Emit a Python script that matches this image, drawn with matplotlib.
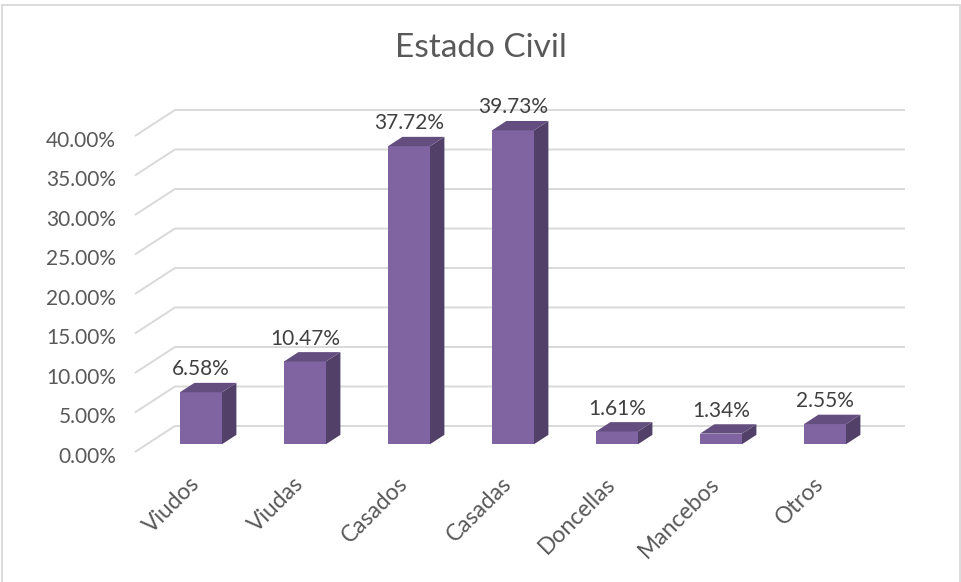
import matplotlib
matplotlib.use("Agg")
import matplotlib.pyplot as plt
from matplotlib.patches import Polygon, Rectangle

categories = ["Viudos", "Viudas", "Casados", "Casadas", "Doncellas", "Mancebos", "Otros"]
values = [6.58, 10.47, 37.72, 39.73, 1.61, 1.34, 2.55]
yticks = [0, 5, 10, 15, 20, 25, 30, 35, 40]
title = "Estado Civil"

FRONT = "#8064A2"
SIDE = "#524068"
TOP = "#644E80"
GRID = "#D9D9D9"
TXT = "#595959"
FONT = ["Lato", "DejaVu Sans"]

W, H, DPI = 961, 582, 100
fig = plt.figure(figsize=(W / DPI, H / DPI), dpi=DPI)
ax = fig.add_axes([0, 0, 1, 1])
ax.set_axis_off()

# mapping: 1 category = 104 px, 1 % = 7.9 px; category 0 (depth 0) at x=189px, 0% at y=452px
PX_X, PX_Y = 104.0, 7.9
X0PX, Y0PX = 189.0, 452.0
ax.set_xlim(-X0PX / PX_X, (W - X0PX) / PX_X)
ax.set_ylim((Y0PX - H) / PX_Y, Y0PX / PX_Y)

DX = 40 / PX_X   # depth offset (full depth) in data units
DY = 26 / PX_Y
XL, XR = -0.52, 6.5

# gridlines: diagonal on left side wall + back wall line
for t in yticks:
    ax.plot([XL, XL + DX, XR + DX], [t, t + DY, t + DY], color=GRID, lw=1.4,
            solid_capstyle="butt", zorder=1)
    ax.text(-0.70, t - 0.6, f"{t:.2f}%", ha="right", va="center",
            fontsize=15, color=TXT, family=FONT)

# bars (oblique projection)
BW = 0.404
ZF, DZ = 0.30, 0.36
for i, v in enumerate(values):
    cx = i + ZF * DX
    b = ZF * DY
    ax.add_patch(Rectangle((cx - BW / 2, b), BW, v, facecolor=FRONT, edgecolor="none", zorder=3))
    sx, sy = DZ * DX, DZ * DY
    ax.add_patch(Polygon([(cx + BW / 2, b), (cx + BW / 2 + sx, b + sy),
                          (cx + BW / 2 + sx, b + v + sy), (cx + BW / 2, b + v)],
                         closed=True, facecolor=SIDE, edgecolor="none", zorder=3))
    ax.add_patch(Polygon([(cx - BW / 2, b + v), (cx + BW / 2, b + v),
                          (cx + BW / 2 + sx, b + v + sy), (cx - BW / 2 + sx, b + v + sy)],
                         closed=True, facecolor=TOP, edgecolor="none", zorder=3))
    ax.text(cx, b + v + sy + 0.45, f"{v:.2f}%", ha="center", va="bottom",
            fontsize=15, color="#404040", family=FONT, zorder=4)
    ax.text(i + 0.0, -2.7, categories[i], ha="right", va="top", rotation=45,
            rotation_mode="anchor", fontsize=16.5, color=TXT, family=FONT)

fig.text(481 / W, 1 - 48 / H, title, ha="center", va="center", fontsize=24,
         color=TXT, family=FONT)

# chart border
fig.patches.append(Rectangle((1.5 / W, -0.01), (W - 3) / W, 1 - 4.5 / H + 0.01,
                             transform=fig.transFigure, fill=False,
                             edgecolor="#D9D9D9", lw=1.3))

fig.savefig("out.png", dpi=DPI, facecolor="white")
